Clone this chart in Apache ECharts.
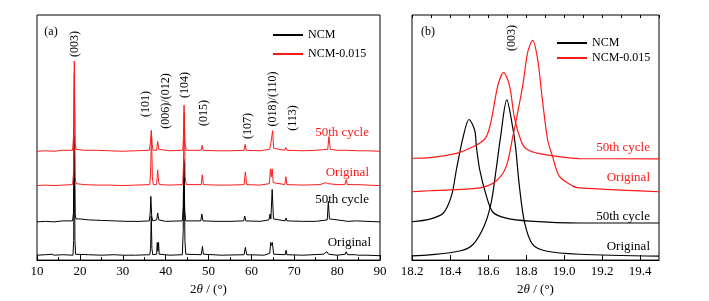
<!DOCTYPE html>
<html>
<head>
<meta charset="utf-8">
<script src="https://cdn.jsdelivr.net/npm/echarts@6/dist/echarts.min.js"></script>
<style>
  html, body { margin: 0; padding: 0; background: #fff; }
  #chart { width: 709px; height: 301px; }
</style>
</head>
<body>
<div id="chart"></div>
<script>
  // (a) full pattern, [2θ, intensity + offset]
  const ncmOriginalA = [[10,5],[12,5.5],[13.5,6],[14,5],[16,5.5],[18.4,5],[18.55,20],[18.7,125],[18.85,20],[19,6],[22,5.5],[25,5],[28,5.5],[30,5],[33,5],[36.3,5.5],[36.5,12],[36.65,45],[36.8,12],[37,5.5],[37.9,6],[38.05,18],[38.2,9],[38.35,18],[38.5,6],[41,5],[43.9,5.5],[44.1,30],[44.3,100],[44.5,20],[44.7,6],[48.3,5.5],[48.6,14],[48.8,6],[53,5],[58.3,5.5],[58.6,13],[58.9,5.5],[63,5],[64.3,7],[64.5,18],[64.7,15],[64.9,18],[65.2,6],[67.9,5.5],[68.1,10],[68.3,5.5],[72,5],[76.8,6],[77.2,8],[77.6,8.5],[78,6],[80,5],[81.9,6],[82.1,8.5],[82.4,5.5],[84.3,5.5],[84.5,7],[84.8,5],[87,5],[90,4.5]]
  const ncmCycledA = [[10,39],[12,39.5],[14,39],[16,40],[18.3,40],[18.5,48],[18.7,127],[18.9,46],[19.1,42],[20,42],[22,41],[25,40.5],[28,40],[31,39.5],[34,39.5],[36.2,40],[36.4,48],[36.55,65],[36.75,45],[37,40],[37.9,41],[38.15,48],[38.4,41],[40,39.5],[43.9,40],[44.1,55],[44.25,103],[44.45,50],[44.7,40],[48.2,40],[48.45,47],[48.7,40],[52,39.5],[55,39.5],[58.2,40],[58.45,45],[58.7,40],[62,39.5],[64.1,41],[64.35,47],[64.55,42],[64.85,72],[65.15,42],[65.5,40],[67.9,40],[68.1,43],[68.3,40],[72,39.5],[75,39.5],[77.7,41],[77.95,60],[78.2,42],[78.5,40],[81.8,40],[82.05,42],[82.3,39.5],[84.5,40],[87,39.5],[90,39]]
  const ncm015OriginalA = [[10,76],[12,76.5],[14,76],[16,76.5],[18.3,77],[18.5,88],[18.7,190],[18.9,85],[19.1,78],[21,77],[24,76.5],[27,76.5],[30,76],[33,76.5],[36.3,77],[36.5,90],[36.7,132],[36.9,85],[37.1,77],[37.9,77],[38.15,92],[38.35,80],[38.6,77],[41,76.5],[44,77],[44.15,95],[44.35,150],[44.55,85],[44.8,77],[48.3,77],[48.55,87],[48.8,77],[52,76.5],[55,76.5],[58.3,77],[58.6,90],[58.9,77],[62,76.5],[64.2,78],[64.45,93],[64.65,85],[64.85,93],[65.1,79],[65.4,77],[67.8,77],[68.05,85],[68.3,77],[72,76.5],[76,77],[77.3,79],[77.8,78],[80,77],[81.8,77],[82.1,82],[82.4,77],[84.3,77],[84.55,78.5],[84.9,77],[87,76.5],[90,76]]
  const ncm015CycledA = [[10,111],[12,111.5],[14,111],[16,112],[18.3,112],[18.5,125],[18.7,203],[18.9,120],[19.1,113],[21,112],[24,112],[27,111.5],[30,111],[33,111.5],[36.2,112],[36.45,120],[36.65,132],[36.85,118],[37.1,112],[37.9,112],[38.15,121],[38.4,113],[41,111.5],[44,112],[44.15,125],[44.3,158],[44.5,120],[44.8,112],[48.3,112],[48.5,117],[48.75,112],[52,111.5],[55,111.5],[58.3,112],[58.55,118],[58.8,112],[62,111.5],[64.2,113],[64.45,116],[64.6,114],[64.95,132],[65.2,114],[65.6,112],[67.8,112],[68,115],[68.3,112],[72,111.5],[75,112],[77.8,113],[78.1,126],[78.4,113],[80,112],[81.8,112],[82.05,114],[82.3,112],[85,111.5],[87,111.5],[90,111]]

  // (b) (003) peak zoom
  const ncmOriginalB = [[18.2,4.3],[18.294,5.3],[18.451,9.3],[18.521,16],[18.582,36],[18.617,59],[18.643,93],[18.666,126],[18.699,164],[18.730,136],[18.745,116],[18.765,76],[18.792,39],[18.835,16],[18.905,9.3],[19.08,6],[19.5,4]]
  const ncmCycledB = [[18.2,39.3],[18.294,42],[18.364,48],[18.408,66],[18.434,93],[18.469,126],[18.500,144],[18.530,133],[18.539,116],[18.556,93],[18.591,66],[18.626,49],[18.696,43],[18.818,40],[19.08,38],[19.5,38]]
  const ncm015OriginalB = [[18.2,70],[18.294,71],[18.556,74],[18.643,81],[18.696,96],[18.730,126],[18.751,146],[18.783,179],[18.809,213],[18.835,225],[18.861,206],[18.887,163],[18.914,123],[18.940,106],[18.975,86],[19.045,76],[19.08,74],[19.5,70]]
  const ncm015CycledB = [[18.2,104.3],[18.294,105],[18.434,109.3],[18.521,116],[18.587,125],[18.617,143],[18.652,179],[18.682,192],[18.713,179],[18.739,146],[18.774,122],[18.801,114],[18.870,109],[19.08,104],[19.5,103.7]]

  const seriesNames = ['NCM', 'NCM-0.015']
  const peakLabelsA = [
    ['(003)', 75, 44], ['(101)', 146, 104], ['(006)/(012)', 166, 101], ['(104)', 185, 85],
    ['(015)', 204, 113], ['(107)', 248, 126], ['(018)/(110)', 273, 99], ['(113)', 293, 118]
  ]
  const traceLabelsA = [['50th cycle', 369, 133, 'red'], ['Original', 369, 173, 'red'], ['50th cycle', 369, 200, 'black'], ['Original', 371, 243, 'black']]
  const traceLabelsB = [['50th cycle', 650, 148, 'red'], ['Original', 650, 178, 'red'], ['50th cycle', 650, 217, 'black'], ['Original', 650, 247, 'black']]

  const FONT = 'Liberation Serif'
  const RED = '#ff1a1a'

  const chart = echarts.init(document.getElementById('chart'))

  function txt(t, x, y, opt) {
    return Object.assign({
      type: 'text', x: x, y: y,
      style: { text: t, fontFamily: FONT, fontSize: 12, fill: '#000', align: 'center', verticalAlign: 'middle' }
    }, opt || {})
  }

  const graphics = []
  peakLabelsA.forEach(function (p) {
    graphics.push(txt(p[0], p[1], p[2], { rotation: Math.PI / 2 }))
  })
  graphics.push(txt('(003)', 512, 38, { rotation: Math.PI / 2 }))
  graphics.push(txt('(a)', 51, 32))
  graphics.push(txt('(b)', 428, 32))
  traceLabelsA.concat(traceLabelsB).forEach(function (l) {
    const g = txt(l[0], l[1], l[2])
    g.style.align = 'right'
    g.style.fontSize = 13
    g.style.fill = l[3] === 'red' ? RED : '#000'
    graphics.push(g)
  })

  const axisName = {
    name: '2{i|θ} / (°)',
    nameLocation: 'middle',
    nameGap: 16,
    nameTextStyle: { fontFamily: FONT, fontSize: 13, color: '#000', rich: { i: { fontFamily: FONT, fontSize: 13, fontStyle: 'italic' } } }
  }
  const label = { fontFamily: FONT, fontSize: 13, color: '#000', margin: 5 }

  function line(name, data, color, xi, yi, smooth) {
    return {
      name: name, type: 'line', data: data, xAxisIndex: xi, yAxisIndex: yi,
      showSymbol: false, symbol: 'none', silent: true, animation: false,
      smooth: smooth || false,
      lineStyle: { color: color, width: smooth ? 1.2 : 1 }, itemStyle: { color: color }
    }
  }

  const legendText = { fontFamily: FONT, fontSize: 12, color: '#000' }

  chart.setOption({
    animation: false,
    grid: [
      { left: 37, top: 15, width: 343, height: 250, show: true, borderColor: '#000', borderWidth: 1 },
      { left: 412, top: 15, width: 247, height: 251, show: true, borderColor: '#000', borderWidth: 1 }
    ],
    legend: [
      { data: seriesNames, orient: 'vertical', left: 273, top: 29, padding: 0, itemWidth: 30, itemHeight: 2, itemGap: 7,
        icon: 'rect', textStyle: legendText, selectedMode: false },
      { data: seriesNames, orient: 'vertical', left: 557, top: 37, padding: 0, itemWidth: 30, itemHeight: 2, itemGap: 3,
        icon: 'rect', textStyle: legendText, selectedMode: false }
    ],
    xAxis: [
      Object.assign({
        gridIndex: 0, type: 'value', min: 10, max: 90, interval: 10,
        axisLine: { lineStyle: { color: '#000', width: 1 } },
        axisTick: { inside: true, length: 5, lineStyle: { color: '#000' } },
        minorTick: { show: true, splitNumber: 2, length: 3, lineStyle: { color: '#000' } },
        axisLabel: label, splitLine: { show: false }
      }, axisName),
      Object.assign({
        gridIndex: 1, type: 'value', min: 18.2, max: 19.5, interval: 0.2,
        axisLine: { lineStyle: { color: '#000', width: 1 } },
        axisTick: { inside: true, length: 5, lineStyle: { color: '#000' } },
        axisLabel: Object.assign({ showMaxLabel: false, formatter: function (v) { return v.toFixed(1) } }, label),
        splitLine: { show: false }
      }, axisName),
      {
        gridIndex: 1, type: 'value', min: 18.2, max: 19.5, interval: 0.1,
        axisLine: { show: false },
        axisTick: { inside: true, length: 3, lineStyle: { color: '#000' } },
        axisLabel: { show: false }, splitLine: { show: false }
      }
    ],
    yAxis: [
      { gridIndex: 0, type: 'value', min: 0, max: 250, show: false },
      { gridIndex: 1, type: 'value', min: 0, max: 251, show: false }
    ],
    graphic: graphics,
    series: [
      line('NCM', ncmOriginalA, '#000', 0, 0),
      line('NCM', ncmCycledA, '#000', 0, 0),
      line('NCM-0.015', ncm015OriginalA, RED, 0, 0),
      line('NCM-0.015', ncm015CycledA, RED, 0, 0),
      line('NCM', ncmOriginalB, '#000', 1, 1, 0.3),
      line('NCM', ncmCycledB, '#000', 1, 1, 0.3),
      line('NCM-0.015', ncm015OriginalB, RED, 1, 1, 0.3),
      line('NCM-0.015', ncm015CycledB, RED, 1, 1, 0.3)
    ]
  })
</script>
</body>
</html>
